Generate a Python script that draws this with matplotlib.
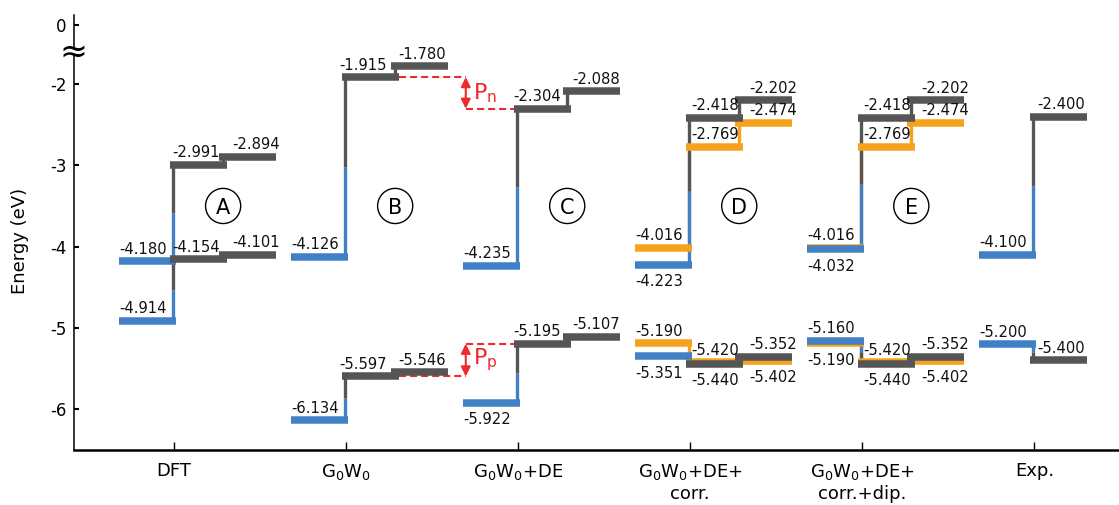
import numpy as np
import matplotlib
matplotlib.use('Agg')
import matplotlib.pyplot as plt

# ---------------- data ----------------
categories = ['DFT', r'G$_0$W$_0$', r'G$_0$W$_0$+DE',
              'G$_0$W$_0$+DE+\ncorr.', 'G$_0$W$_0$+DE+\ncorr.+dip.', 'Exp.']
panel_letters = ['A', 'B', 'C', 'D', 'E']

blue_up = [-4.180, -4.126, -4.235, -4.223, -4.032, -4.100]
gray1_up = [-2.991, -1.915, -2.304, -2.418, -2.418, -2.400]
gray2_up = [-2.894, -1.780, -2.088, -2.202, -2.202, None]
blue_lo = [-4.914, -6.134, -5.922, -5.351, -5.160, -5.200]
gray1_lo = [-4.154, -5.597, -5.195, -5.440, -5.440, -5.400]
gray2_lo = [-4.101, -5.546, -5.107, -5.352, -5.352, None]

orange_cols = [3, 4]            # column indices (D, E)
orange_blue_up = [-4.016, -4.016]
orange_g1_up = [-2.769, -2.769]
orange_g2_up = [-2.474, -2.474]
orange_blue_lo = [-5.190, -5.190]
orange_g1_lo = [-5.420, -5.420]
orange_g2_lo = [-5.402, -5.402]

yticks = [-2, -3, -4, -5, -6]
ytick_labels = ['-2', '-3', '-4', '-5', '-6']

# ---------------- style ----------------
BLUE = '#4180C4'
GRAY = '#555555'
ORANGE = '#F7A21D'
RED = '#EE2A2E'

PX = 1 / 172.1                 # one pixel in x data units
BLUE_X, G1_X, G2_X, W = -55 * PX, -4 * PX, 45 * PX, 57 * PX
VX, STUB_X = -1 * PX, 49 * PX
BAR_LW, V_LW = 5.4, 2.4
g1_lab_off = [-2, -7, -5, 1, 1, 3]
g2_lab_off = [58, 52, 54, 59, 59, 0]
BLUE_LAB = -55
LAB_FS = 10.6

below = {('blue_lo', 2), ('blue_up', 3), ('blue_lo', 3), ('g1_lo', 3), ('o_g2_lo', 3),
         ('blue_up', 4), ('o_blue_lo', 4), ('g1_lo', 4), ('o_g2_lo', 4)}

fig = plt.figure(figsize=(11.19, 5.05), dpi=100)
ax = fig.add_axes([73.5 / 1119, 55 / 505, 1 - 73.5 / 1119, 435 / 505])
ax.set_xlim(0.415, 6.492)
ax.set_ylim(-6.502, -1.151)


def bar(x0, y, color, z):
    ax.plot([x0, x0 + W], [y, y], color=color, lw=BAR_LW,
            solid_capstyle='butt', zorder=z)


def vline(x, y0, y1, color, z):
    ax.plot([x, x], [y0, y1], color=color, lw=V_LW,
            solid_capstyle='butt', zorder=z)


def label(x, y, v, key, i):
    if (key, i) in below:
        ax.annotate(f'{v:.3f}', (x, y), xytext=(0, -6.9), textcoords='offset points',
                    ha='left', va='top', fontsize=LAB_FS, color='#111111', zorder=10)
    else:
        ax.annotate(f'{v:.3f}', (x, y), xytext=(0, 5.4), textcoords='offset points',
                    ha='left', va='baseline', fontsize=LAB_FS, color='#111111', zorder=10)


for i in range(6):
    c = i + 1
    groups = [(blue_up[i], gray1_up[i], gray2_up[i], 'up'),
              (blue_lo[i], gray1_lo[i], gray2_lo[i], 'lo')]
    for b, g1, g2, tag in groups:
        mid = (b + g1) / 2
        vline(c + VX, b, mid, BLUE, 2)
        vline(c + VX, mid, g1, GRAY, 2)
        if g2 is not None:
            vline(c + STUB_X, g1, g2, GRAY, 2)
        bar(c + BLUE_X, b, BLUE, 4)
        bar(c + G1_X, g1, GRAY, 5)
        label(c + BLUE_LAB * PX, b, b, 'blue_' + tag, i)
        label(c + G1_X + g1_lab_off[i] * PX + 4 * PX, g1, g1, 'g1_' + tag, i)
        if g2 is not None:
            bar(c + G2_X, g2, GRAY, 5)
            label(c + g2_lab_off[i] * PX, g2, g2, 'g2_' + tag, i)

for j, i in enumerate(orange_cols):
    c = i + 1
    sets = [(orange_blue_up[j], orange_g1_up[j], orange_g2_up[j], 'up'),
            (orange_blue_lo[j], orange_g1_lo[j], orange_g2_lo[j], 'lo')]
    for b, g1, g2, tag in sets:
        vline(c + VX, b, g1, ORANGE, 1.5)
        vline(c + STUB_X, g1, g2, ORANGE, 1.5)
        bar(c + BLUE_X, b, ORANGE, 3)
        bar(c + G1_X, g1, ORANGE, 3)
        bar(c + G2_X, g2, ORANGE, 3)
        label(c + BLUE_LAB * PX, b, b, 'o_blue_' + tag, i)
        label(c + G1_X + g1_lab_off[i] * PX + 4 * PX, g1, g1, 'o_g1_' + tag, i)
        label(c + g2_lab_off[i] * PX, g2, g2, 'o_g2_' + tag, i)

# circled panel letters
for k, letter in enumerate(panel_letters):
    x = k + 1 + 49 * PX
    ax.scatter([x], [-3.5], s=640, facecolors='none', edgecolors='black',
               linewidths=1.0, zorder=6)
    ax.annotate(letter, (x, -3.5), xytext=(0, -5.6), textcoords='offset points',
                ha='center', va='baseline', fontsize=15, zorder=7)

# P_n / P_p markers
arrow_x = 2.695
for top_ref, bot_ref, name in [(gray1_up[1], gray1_up[2], 'n'),
                               (gray1_lo[1], gray1_lo[2], 'p')]:
    x_start = 2 + G1_X + W
    x_end = 3 + G1_X
    ax.plot([x_start, arrow_x], [top_ref, top_ref], color=RED, lw=1.5,
            dashes=(3.4, 1.9), zorder=3)
    ax.plot([arrow_x, x_end], [bot_ref, bot_ref], color=RED, lw=1.5,
            dashes=(3.4, 1.9), zorder=3)
    ax.annotate('', xy=(arrow_x, top_ref), xytext=(arrow_x, bot_ref),
                arrowprops=dict(arrowstyle='<|-|>', color=RED, lw=1.5,
                                mutation_scale=14, shrinkA=0, shrinkB=0), zorder=6)
    ax.text(2.74, (top_ref + bot_ref) / 2, r'$\mathregular{P_%s}$' % name,
            color=RED, fontsize=16, ha='left', va='center', zorder=7)

# axes styling
for s in ['top', 'right']:
    ax.spines[s].set_visible(False)
ax.spines['left'].set_linewidth(1.1)
ax.spines['bottom'].set_linewidth(1.8)

zero_pos = -1.274
ax.set_yticks([zero_pos] + yticks)
ax.set_yticklabels(['0'] + ytick_labels)
ax.set_xticks(range(1, 7))
ax.set_xticklabels(categories)
ax.tick_params(axis='y', direction='in', length=3.5, width=1.5, pad=5, labelsize=12)
ax.tick_params(axis='x', direction='in', length=6, width=1.0, pad=9, labelsize=13)
ax.set_ylabel('Energy (eV)', fontsize=13)
ax.yaxis.set_label_coords(-0.043, 0.48)

# axis break mark
ax.plot([0.415, 0.415], [-1.57, -1.645], color='white', lw=3, zorder=20, clip_on=False,
        solid_capstyle='butt')
ax.text(0.415, -1.606, '\u2248', fontsize=24, ha='center', va='center', zorder=21,
        clip_on=False)

fig.savefig('out.png', dpi=100)
